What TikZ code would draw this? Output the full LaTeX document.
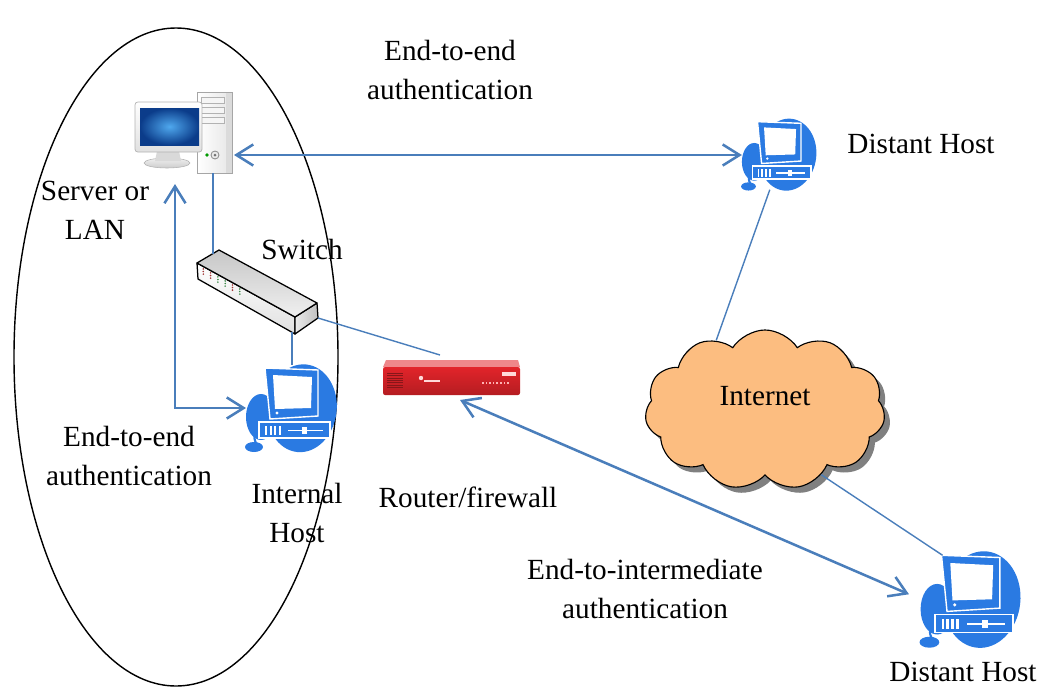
\documentclass[tikz,border=0pt]{standalone}
\usepackage{fontspec}
\setmainfont{Liberation Serif}
\usetikzlibrary{arrows.meta,shapes.symbols,shadows}

\definecolor{linkblue}{HTML}{4A7EBB}
\definecolor{hostblue}{HTML}{2A7AE2}
\definecolor{cloudorange}{HTML}{FCBD80}
\definecolor{routerred}{HTML}{E2242A}
\definecolor{scrlight}{HTML}{4FA8EE}
\definecolor{scrdark}{HTML}{0B3C8A}
\definecolor{ledred}{HTML}{A33A3A}
\definecolor{ledgreen}{HTML}{3E8A4A}

\tikzset{
	txt/.style={font=\fontsize{20.8}{27.5}\selectfont, align=center, inner sep=0pt},
	wire/.style={draw=linkblue, line width=1pt},
	authline/.style={draw=linkblue, line width=1.8pt,
		{Straight Barb[length=12pt,width=15pt]}-{Straight Barb[length=12pt,width=15pt]}},
	netcloud/.style={cloud, cloud puffs=11, cloud puff arc=115, aspect=1.5,
		draw=black, line width=0.8pt, fill=cloudorange,
		minimum width=6cm, minimum height=4cm,
		drop shadow={shadow xshift=4pt, shadow yshift=-4pt, fill=black!50, opacity=1},
		font=\fontsize{20.8}{27}\selectfont, text height=15pt, text depth=21pt},
	pics/host/.style={code={
		\fill[hostblue, rotate=-6] (12,2) ellipse (35 and 44);
		\fill[hostblue] (-29,12) ellipse (15 and 23);
		\fill[hostblue] (-36,42) ellipse (9 and 5);
		\draw[hostblue, line width=1.5pt] (-34,38) .. controls (-38,30) and (-34,27) .. (-26,27);
		\filldraw[fill=hostblue, draw=white, line width=1pt] (-31,17) rectangle (40,33);
		\foreach \i in {0,...,3}
			\fill[white] (-25+4.5*\i,21) rectangle ++(2.4,9);
		\fill[white] (-2,24.6) rectangle (33,26.4);
		\fill[white] (12,22) rectangle (17,29);
		\filldraw[fill=hostblue, draw=white, line width=1pt] (-25,-37) -- (28,-35) -- (28,11) -- (-20,14) -- cycle;
		\fill[white] (-17,-30) -- (22,-28) -- (21,3) -- (-15,4) -- cycle;
		\fill[white] (-13,8) circle (1.6);
		\coordinate (-n) at (2,-40);
		\coordinate (-w) at (-44,3);
		\coordinate (-s) at (-10,46);
		\coordinate (-nw) at (-24,-37);
	}},
	pics/server/.style={code={
		\shade[left color=white, right color=black!10] (21,-40) rectangle (56,41);
		\fill[black!14] (50,-40) rectangle (56,41);
		\draw[black!35, line width=0.4pt] (21,-40) rectangle (56,41);
		\foreach \y in {-35,-25,-15}
			\draw[black!30, line width=0.4pt, fill=black!4] (25,\y) rectangle (48,\y+6);
		\draw[black!45, line width=0.6pt, fill=black!8] (39,23) circle (4);
		\fill[black!55] (39,23) circle (1.5);
		\fill[green!60!black] (31,23) circle (1.8);
		\shade[top color=black!6, bottom color=black!20, draw=black!30] (-9,31) ellipse (23 and 5);
		\fill[black!15] (-19,19) -- (3,19) -- (5,29) -- (-21,29) -- cycle;
		\shade[top color=white, bottom color=black!12, draw=black!30, line width=0.5pt, rounded corners=2]
			(-41,-30) rectangle (26,20);
		\shade[inner color=scrlight, outer color=scrdark] (-36,-24) rectangle (23,13);
		\coordinate (-e) at (58,23);
		\coordinate (-s) at (37,41);
		\coordinate (-sw) at (-1,52);
	}},
	pics/switchbox/.style={code={
		\shade[top color=white, bottom color=black!12, draw=black, line width=0.9pt, line join=round]
			(-60,-29) -- (38,25) -- (38,42) -- (-59,-13) -- cycle;
		\shade[left color=black!8, right color=black!25, draw=black, line width=0.9pt, line join=round]
			(38,25) -- (60,11) -- (61,26) -- (38,42) -- cycle;
		\shade[top color=black!22, bottom color=black!6, draw=black, line width=0.9pt, line join=round]
			(-60,-29) -- (-38,-42) -- (60,11) -- (38,25) -- cycle;
		\foreach \i/\c in {0/ledred,1/ledred,2/ledgreen,3/ledgreen,4/ledred,5/ledgreen}
			\foreach \j in {-2.6,0,2.6}
				\fill[\c] (-53.7+7.3*\i,-20.5+4*\i+\j) circle (0.9);
		\coordinate (-n) at (-44,-38);
		\coordinate (-s) at (35,40);
		\coordinate (-e) at (61,26);
	}},
	pics/router/.style={code={
		\fill[routerred!55!white] (-66,-18) -- (66,-18) -- (68,-11) -- (-69,-11) -- cycle;
		\shade[top color=routerred, bottom color=routerred!80!black, rounded corners=1.5] (-69,-11) rectangle (68,17);
		\foreach \k in {0,...,6}
			\draw[routerred!60!black, line width=0.4pt] (-65,-5+2.4*\k) -- (-49,-5+2.4*\k);
		\fill[white!85!red] (-31,0) circle (2.2);
		\fill[white!85!red] (-28,2) rectangle (-12,4);
		\foreach \k in {0,...,7}
			\fill[white!70!red] (30+3.6*\k,4) rectangle ++(1.6,1.6);
		\fill[white!85!red] (50,-6) rectangle (64,-2);
		\coordinate (-n) at (-12,-23);
		\coordinate (-s) at (8,22);
	}}
}

\begin{document}
\begin{tikzpicture}[x=0.025cm, y=-0.025cm]
	\useasboundingbox (0,0) rectangle (1048,686);

	\draw[line width=1pt] (176,357) ellipse (162 and 329);

	\pic (srv) at (176,132) {server};
	\pic (sw) at (257,292) {switchbox};
	\pic (hst) at (290,405) {host};
	\pic (rtr) at (452,378) {router};
	\pic[scale=0.82] (dh1) at (778,152) {host};
	\pic[scale=1.1] (dh2) at (969,596) {host};
	\draw (765,410) node[netcloud] (inet) {Internet};

	\draw (450,70) node[txt] (auth1) {End-to-end\\authentication};
	\draw (921,144) node[txt] (dhl1) {Distant Host};
	\draw (95,210) node[txt] (srvl) {Server or\\LAN};
	\draw (302,249) node[txt] (swl) {Switch};
	\draw (129,456) node[txt] (auth2) {End-to-end\\authentication};
	\draw (297,513) node[txt] (hstl) {Internal\\Host};
	\draw (468,497) node[txt] (rtrl) {Router/firewall};
	\draw (645,589) node[txt] (auth3) {End-to-intermediate\\authentication};
	\draw (963,672) node[txt] (dhl2) {Distant Host};

	\draw[wire] (srv-s) -- (sw-n);
	\draw[wire] (sw-s) -- (hst-n);
	\draw[wire] (sw-e) -- (rtr-n);
	\draw[wire] (dh1-s) -- (inet.125);
	\draw[wire] (inet.-49) -- (dh2-nw);

	\draw[authline] (srv-e) -- (srv-e -| dh1-w);
	\draw[authline] (srv-sw) |- (hst-w);
	\draw[authline, shorten >=9pt] (rtr-s) -- (dh2-w);
\end{tikzpicture}
\end{document}
